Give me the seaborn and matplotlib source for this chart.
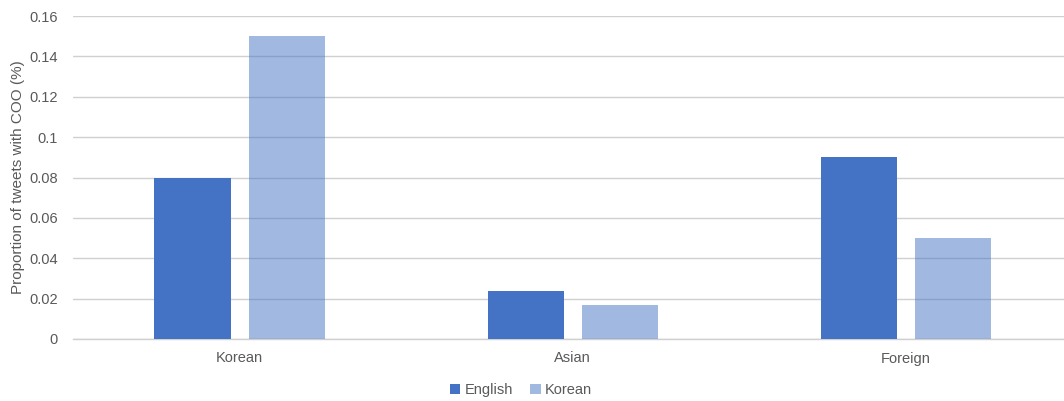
import matplotlib
matplotlib.use("Agg")
import matplotlib.pyplot as plt
import seaborn as sns
import pandas as pd
from matplotlib.patches import Patch

categories = ["Korean", "Asian", "Foreign"]
english_values = [0.08, 0.024, 0.09]
korean_values = [0.15, 0.017, 0.05]
series_names = ["English", "Korean"]
y_ticks = [0, 0.02, 0.04, 0.06, 0.08, 0.1, 0.12, 0.14, 0.16]
y_tick_labels = ["0", "0.02", "0.04", "0.06", "0.08", "0.1", "0.12", "0.14", "0.16"]

df = pd.DataFrame({
    "category": categories * 2,
    "series": [series_names[0]] * 3 + [series_names[1]] * 3,
    "value": english_values + korean_values,
})

sns.set_theme(style="white")
plt.rcParams["font.family"] = ["Liberation Sans", "DejaVu Sans"]

text_color = "#595959"
blue = "#4472C4"
light = "#A1B8E1"

fig = plt.figure(figsize=(10.64, 4.01), dpi=100)
ax = fig.add_axes([73 / 1064, 1 - 339 / 401, (1072.5 - 73) / 1064, (339 - 16) / 401])

sns.barplot(data=df, x="category", y="value", hue="series",
            palette={"English": blue, "Korean": light}, saturation=1,
            width=0.565, gap=0.19, ax=ax, legend=False, zorder=3)

# Korean bars translucent, gridlines visible through
for p in ax.patches:
    fc = p.get_facecolor()
    if abs(fc[0] - int(light[1:3], 16) / 255) < 0.02:
        p.set_facecolor(blue)
        p.set_alpha(0.5)
    p.set_edgecolor("none")
    p.set_linewidth(0)

ax.set_ylim(0, 0.16)
ax.set_xlim(-0.5, 2.5)
ax.set_yticks(y_ticks)
ax.set_yticklabels(y_tick_labels)
ax.yaxis.grid(True, color="#D0D0D0", linewidth=1.0, zorder=0)
ax.set_axisbelow(True)
for s in ["top", "right", "left"]:
    ax.spines[s].set_visible(False)
ax.spines["bottom"].set_color("#D0D0D0")
ax.spines["bottom"].set_linewidth(1.0)

ax.tick_params(axis="both", length=0, colors=text_color, labelsize=10.5)
ax.tick_params(axis="y", pad=11)
ax.tick_params(axis="x", pad=9)
ax.set_xlabel("")
ax.set_ylabel("Proportion of tweets with COO (%)", color=text_color, fontsize=11)
ax.yaxis.set_label_coords((25 - 73) / 999.5, 0.5)

handles = [Patch(facecolor=blue, edgecolor="none"), Patch(facecolor=blue, alpha=0.5, edgecolor="none")]
fig.legend(handles, series_names, loc="center", bbox_to_anchor=(521 / 1064, 1 - 390 / 401),
           ncol=2, frameon=False, fontsize=10.5, labelcolor=text_color,
           handlelength=0.7, handleheight=0.7, handletextpad=0.3, columnspacing=1.2)

fig.savefig("out.png", dpi=100)
